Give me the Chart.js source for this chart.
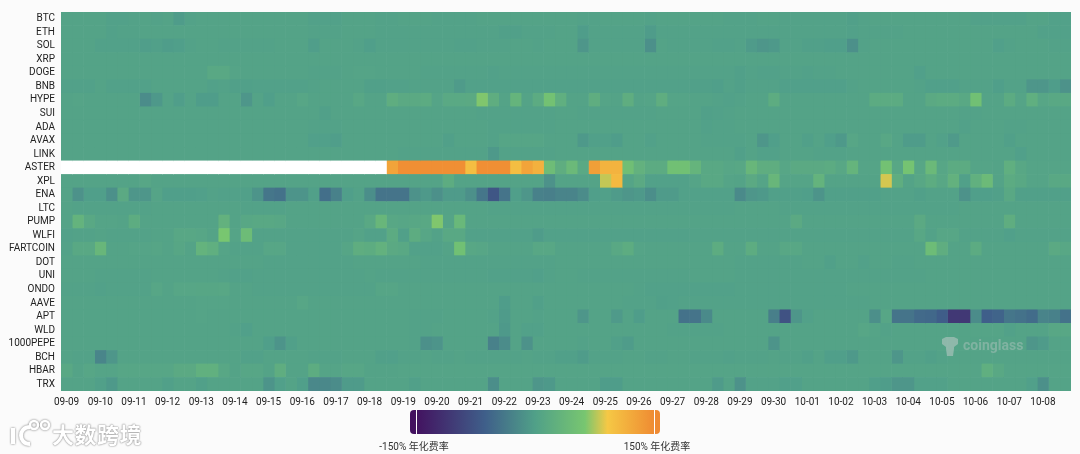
<!DOCTYPE html>
<html>
<head>
<meta charset="utf-8">
<title>Funding heatmap</title>
<script src="https://cdn.jsdelivr.net/npm/chart.js@4"></script>
<style>
  html, body { margin: 0; padding: 0; background: #fbfbfb; }
  body { width: 1080px; height: 454px; position: relative; overflow: hidden; font-family: Roboto, "Noto Sans CJK SC", sans-serif; }
  #wrap { position: absolute; left: 0; top: 0; width: 1080px; height: 454px; }
  #scaleBar { position: absolute; left: 410px; top: 410px; width: 250px; height: 24px; border-radius: 4px;
    background: linear-gradient(to right, #43115f 0%, #43115f 2%, #3f5f8a 30%, #50a088 50%, #78c670 70%, #f5c845 79%, #ef8a32 98%); }
  .handle { position: absolute; top: 0; width: 1px; height: 24px; background: #fff; }
  .scaleText { position: absolute; top: 438px; font-size: 10px; color: #333; white-space: nowrap; transform: translateX(-50%); }
  #coinglass { position: absolute; left: 963px; top: 337px; font-size: 14px; font-weight: 700; color: rgba(200,205,205,0.38); }
  #brand { position: absolute; left: 52px; top: 419px; font-size: 22px; font-weight: 700; color: #fff; letter-spacing: 0.5px;
    font-family: "Noto Sans CJK SC", sans-serif; line-height: 28px; text-shadow: 0 0 2px #8a8a8a, 0 0 1px #8a8a8a; }
  svg { position: absolute; }
</style>
</head>
<body>
<div id="wrap"><canvas id="heat" width="1080" height="454"></canvas></div>
<div id="scaleBar"><div class="handle" style="left:6px"></div><div class="handle" style="left:244px"></div></div>
<div class="scaleText" style="left:414px">-150% 年化费率</div>
<div class="scaleText" style="left:657px">150% 年化费率</div>
<svg style="left:940px;top:336px" width="20" height="22" viewBox="0 0 20 22">
  <path d="M2 3 L6 1 L14 1 L18 3 L18 8 L14 11 L14 13 L13 20 L7 20 L6 13 L6 11 L2 8 Z" fill="rgba(200,205,205,0.5)"/>
</svg>
<div id="coinglass">coinglass</div>
<svg style="left:8px;top:418px" width="44" height="30" viewBox="0 0 44 30">
  <g fill="none" stroke="#fff" stroke-width="4" style="filter:drop-shadow(0 0 1px #777)">
    <path d="M5 10 L5 26"/><path d="M22 9 C10 9 10 26 22 26"/>
    <circle cx="26" cy="7" r="4" stroke-width="2.5"/><circle cx="37" cy="7" r="4" stroke-width="2.5"/>
  </g>
</svg>
<div id="brand">大数跨境</div>
<script>
const coins = ['BTC', 'ETH', 'SOL', 'XRP', 'DOGE', 'BNB', 'HYPE', 'SUI', 'ADA', 'AVAX', 'LINK', 'ASTER', 'XPL', 'ENA', 'LTC', 'PUMP', 'WLFI', 'FARTCOIN', 'DOT', 'UNI', 'ONDO', 'AAVE', 'APT', 'WLD', '1000PEPE', 'BCH', 'HBAR', 'TRX'];
const days = ['09-09', '09-10', '09-11', '09-12', '09-13', '09-14', '09-15', '09-16', '09-17', '09-18', '09-19', '09-20', '09-21', '09-22', '09-23', '09-24', '09-25', '09-26', '09-27', '09-28', '09-29', '09-30', '10-01', '10-02', '10-03', '10-04', '10-05', '10-06', '10-07', '10-08'];

// annualised funding %, three readings per day
const BTC = [6,6,6,6,3,3,4,6,4,6, -3,4,6,6,6,6,6,6,6,6, 6,6,3,3,3,6,6,6,4,4, 6,6,6,5,5,5,5,6,6,6, 6,6,6,6,6,6,5,5,6,6, 6,6,5,6,6,6,6,6,6,5, 5,5,6,6,5,5,5,5,5,4, 2,5,6,6,6,6,6,6,6,6, 6,3,3,3,3,3,6,6,3,3];
const ETH = [6,6,6,6,3,4,4,6,6,6, 6,6,6,6,6,6,6,6,6,6, 6,6,4,4,4,6,6,6,5,5, 5,4,4,4,4,4,4,4,4,2, 2,4,5,5,6,6,-2,4,4,5, 5,5,-3,4,5,5,5,5,5,5, 5,5,5,5,5,5,4,4,5,5, 3,5,5,4,4,6,6,6,6,6, 6,6,6,6,6,6,6,3,3,3];
const SOL = [6,6,6,3,3,3,3,-1,2,-2, 0,4,6,6,5,5,4,4,5,6, 6,6,-1,6,6,6,5,0,5,5, 5,5,4,4,4,3,3,4,4,5, 6,6,5,6,6,6,-8,4,4,4, 5,4,-14,6,4,4,4,4,3,3, 4,-4,-8,-6,5,5,2,2,0,0, -14,4,6,6,6,6,6,6,6,6, 6,6,6,1,5,6,6,6,5,5];
const XRP = [6,6,6,6,6,6,6,6,6,6, 6,6,6,6,6,6,6,6,6,6, 6,6,6,6,6,6,6,6,6,6, 6,6,6,6,6,6,6,6,6,6, 6,6,6,6,6,6,6,6,6,6, 6,6,6,6,6,6,6,6,6,6, 6,6,6,6,6,6,6,6,6,6, 6,6,6,6,6,6,6,6,6,6, 6,6,6,6,6,6,6,6,6,6];
const DOGE = [6,6,6,6,6,6,6,6,6,6, 6,6,6,14,14,7,6,6,6,6, 6,6,5,5,5,6,7,7,6,6, 6,6,5,5,5,5,5,5,3,5, 5,5,5,5,5,5,5,5,5,5, 5,5,5,5,5,5,5,5,5,5, 2,5,3,3,5,5,3,5,5,6, 6,6,6,6,6,6,1,6,6,6, 6,6,6,6,6,6,6,6,6,6];
const BNB = [3,3,3,6,3,3,3,3,6,6, 6,6,6,3,5,2,2,3,3,3, 3,3,5,6,6,6,6,2,2,3, 3,4,4,4,4,-4,3,3,3,3, 3,3,3,3,3,3,3,3,3,3, 3,3,3,3,3,3,2,2,0,4, 2,5,4,4,1,1,1,1,1,1, 5,6,6,6,6,6,5,1,1,1, 5,5,5,0,5,5,-8,-8,-2,-12];
const HYPE = [6,8,6,6,6,6,6,-18,-7,6, -1,6,-2,-2,6,6,-8,6,0,6, 6,10,6,6,6,6,12,6,6,22, 16,16,18,7,15,15,16,62,22,6, 32,6,18,52,24,6,6,22,8,6, 22,6,8,22,7,7,6,6,4,3, 5,6,6,20,6,6,6,6,6,6, 6,6,18,18,18,6,6,16,18,18, 14,50,6,6,18,8,24,10,14,14];
const SUI = [6,6,6,6,6,6,6,6,6,6, 6,6,6,6,6,6,6,6,6,6, 6,6,6,2,6,6,6,6,6,6, 6,6,6,6,6,6,6,5,5,5, 5,5,5,5,6,6,5,4,4,5, 5,5,5,6,6,6,6,2,3,5, 6,6,6,6,6,6,6,6,6,6, 6,6,6,6,6,6,6,6,6,6, 5,5,6,6,6,6,6,6,6,6];
const ADA = [6,6,6,6,6,6,6,6,6,6, 6,6,6,6,6,6,6,6,6,6, 6,6,5,5,5,6,6,6,6,6, 6,6,6,6,6,6,6,6,5,5, 5,5,5,5,6,6,6,6,6,6, 6,6,6,6,6,6,6,3,4,5, 6,6,6,6,6,6,6,6,6,6, 6,6,6,6,6,6,6,6,6,6, 3,6,6,6,5,5,6,6,6,6];
const AVAX = [6,6,6,6,6,6,6,6,6,6, 6,6,6,6,6,6,6,6,6,6, 6,6,1,1,-1,6,6,6,6,6, 6,6,6,6,2,6,6,6,4,9, 9,9,9,6,6,6,-6,2,2,-2, 6,6,3,6,6,6,6,5,5,5, 5,6,-8,0,6,6,2,6,0,-6, 10,6,6,12,6,-3,-3,6,3,-5, 6,6,6,6,2,6,6,6,6,6];
const LINK = [6,6,6,6,6,6,6,6,6,6, 6,6,6,6,6,6,6,6,6,6, 6,6,6,6,6,6,6,6,6,6, 5,5,5,5,5,5,5,5,-6,5, 5,5,5,5,6,6,6,6,6,6, 6,6,6,6,6,6,6,6,6,6, 2,6,3,3,6,6,6,5,5,5, 6,6,6,6,6,6,6,6,6,6, 6,6,6,6,6,1,6,6,6,6];
const ASTER = [null,null,null,null,null,null,null,null,null,null, null,null,null,null,null,null,null,null,null,null, null,null,null,null,null,null,null,null,null,125, 145,145,145,145,145,145,100,145,145,145, 100,125,112,45,22,40,15,130,110,110, 48,28,18,18,50,50,32,14,14,10, 12,36,22,22,10,16,16,16,18,12, 32,8,8,52,12,55,10,40,10,18, 18,8,8,6,24,12,8,8,8,8];
const XPL = [6,6,6,6,6,6,6,10,6,6, 6,6,6,6,6,6,6,6,6,6, 6,6,6,6,6,6,6,6,6,6, 6,6,6,6,20,6,6,6,6,6, 6,6,6,-12,6,6,6,6,78,105, 8,16,3,3,3,3,8,14,14,8, 6,16,8,36,8,8,8,30,6,6, 6,6,6,82,22,6,12,20,12,28, 2,26,42,6,18,14,8,8,14,14];
const ENA = [6,-12,0,0,-14,16,-8,-8,8,0, 0,0,1,5,3,3,2,-10,-38,-42, -10,-10,2,-45,-28,0,4,-16,-40,-40, -40,-12,-6,-14,-4,-4,-14,-38,-70,-40, 0,-8,-28,-30,-25,-25,-18,0,2,-4, -8,-6,-16,-4,-4,3,3,3,3,3, -20,-8,-6,2,2,2,0,-10,2,2, 2,2,2,4,4,4,2,4,4,4, -12,0,0,2,14,2,2,2,2,2];
const LTC = [6,5,5,5,5,5,5,5,6,6, 6,6,6,6,6,6,5,5,5,5, 6,6,6,6,6,6,6,6,6,6, 6,6,6,6,6,6,6,6,5,5, 5,5,5,5,5,5,5,5,5,5, 5,5,5,5,5,5,5,5,5,5, 6,6,6,6,5,5,5,5,5,5, 5,5,5,5,5,5,5,5,5,5, 6,6,6,6,6,6,6,6,6,6];
const PUMP = [6,30,14,8,8,6,20,6,6,6, 6,6,6,6,28,6,12,14,14,12, 6,6,6,6,6,6,6,14,36,12, 10,12,14,62,8,38,6,6,6,6, 6,6,6,6,6,6,6,6,6,6, 6,6,6,6,6,6,6,6,6,6, 6,6,6,6,6,16,6,6,6,6, 6,6,6,6,6,6,16,6,6,6, 6,6,6,6,22,6,6,6,6,6];
const WLFI = [3,4,4,6,4,4,4,4,6,6, 12,12,10,6,60,8,44,4,4,4, 4,4,4,4,4,4,8,3,3,18, 2,20,10,4,14,14,3,3,3,3, 3,3,-3,3,3,3,3,3,3,3, 3,3,3,3,3,3,5,5,5,5, 5,5,5,5,5,5,5,4,4,4, 5,5,5,5,5,5,12,5,10,10, 5,5,5,5,1,5,5,4,4,4];
const FARTCOIN = [4,14,14,36,6,6,7,7,9,6, 11,6,30,24,8,5,5,5,10,10, 5,5,5,5,5,9,22,20,28,16, 14,3,3,3,6,50,12,10,6,6, 6,6,12,12,6,6,6,6,6,14, 20,8,6,6,6,6,6,6,20,6, 6,20,6,6,12,12,6,6,6,6, 6,6,6,6,6,6,6,44,22,6, 6,18,6,6,6,6,6,6,16,12];
const DOT = [6,6,6,6,6,6,6,6,6,6, 6,6,6,6,6,6,6,6,5,5, 5,5,5,5,5,5,6,6,6,6, 6,6,5,5,5,5,5,5,4,4, 4,4,4,5,6,6,6,6,6,6, 6,6,6,6,6,6,6,6,6,6, 5,5,5,5,5,5,6,6,2,6, 6,3,6,6,5,5,6,6,6,6, 6,6,6,6,6,6,6,6,6,6];
const UNI = [6,6,6,5,5,5,5,5,6,6, 6,6,6,6,5,3,3,5,5,5, 5,4,4,4,5,5,5,6,5,5, 5,5,5,5,5,5,5,5,3,3, 3,3,1,4,6,6,5,5,5,5, 5,5,5,5,5,5,6,6,6,6, 4,5,5,5,5,5,5,5,5,5, 5,5,5,5,5,5,5,6,6,6, 6,6,6,6,6,6,6,6,6,6];
const ONDO = [5,5,5,3,5,5,5,5,10,6, 10,10,11,11,12,6,6,5,5,5, 5,5,5,4,4,4,5,5,9,9, 6,6,6,6,6,6,6,6,6,6, 6,6,6,6,6,6,6,6,6,6, 6,5,3,3,3,3,3,3,3,3, 5,5,5,5,5,5,5,5,5,5, 6,6,6,6,6,6,6,6,6,6, 6,6,6,6,6,6,6,6,6,6];
const AAVE = [6,6,6,6,6,6,6,6,6,6, 6,6,7,7,8,6,6,6,6,6, 6,10,6,6,6,6,6,6,6,6, 6,6,6,6,6,6,6,6,6,-2, 6,6,2,6,6,6,6,6,6,6, 5,5,5,2,3,5,5,5,5,5, 5,5,5,5,5,5,5,5,4,5, 5,5,6,6,6,6,6,6,6,6, 6,6,6,6,6,6,6,6,6,6];
const APT = [6,6,6,6,6,6,6,6,6,6, 6,6,8,6,6,6,6,6,6,6, 6,6,6,6,6,6,6,6,6,6, 6,5,5,4,6,6,6,6,5,-4, 6,6,4,6,6,6,-8,6,6,-5, 6,-2,6,6,6,-42,-40,-20,6,6, 6,6,6,-30,-75,-8,3,6,6,6, 6,6,-15,10,-40,-40,-50,-52,-62,-105, -105,-18,-60,-55,-38,-42,-48,-25,-28,-42];
const WLD = [6,6,6,6,6,6,6,6,6,6, 6,6,6,6,6,5,1,6,6,6, 6,6,6,6,6,6,6,6,6,6, 6,4,4,6,6,6,6,6,6,-6, 6,3,3,6,6,6,6,6,6,6, 6,6,6,6,5,5,5,5,5,6, 6,6,6,6,6,6,6,6,6,6, 6,10,8,4,6,6,6,6,6,6, 6,8,8,8,3,6,6,6,12,12];
const PEPE1000 = [6,6,6,6,6,6,6,6,6,6, 6,6,6,6,6,6,6,6,0,-10, 2,6,6,6,6,6,6,6,6,6, 6,5,-14,-10,6,6,6,6,-28,-18, 6,-12,6,6,6,6,4,6,6,2, -3,6,6,6,6,6,6,6,6,6, 6,6,6,-10,6,6,6,6,6,6, 6,6,6,6,6,6,6,6,6,6, 6,6,6,6,6,6,-8,-4,6,6];
const BCH = [6,5,5,-24,-8,6,6,6,6,6, 6,6,6,6,6,6,3,3,6,6, 6,6,5,5,5,6,6,6,2,1, 4,4,6,4,4,6,5,5,4,4, 5,6,5,5,2,2,-3,5,5,5, 6,6,5,5,6,6,4,4,4,3, 5,5,5,6,5,5,2,6,0,0, -6,6,6,6,-8,5,5,2,5,6, 6,6,6,6,6,6,6,6,6,6];
const HBAR = [14,6,10,8,8,10,10,10,10,10, 16,16,26,26,12,6,10,10,6,22, 6,6,20,8,8,10,10,6,6,6, 8,8,8,8,8,8,8,8,8,8, 8,8,8,8,8,8,8,8,8,8, 8,8,8,8,8,8,8,8,8,8, 8,8,8,8,8,8,8,8,8,8, 8,8,8,8,8,8,8,8,8,8, 8,8,24,14,8,8,8,8,8,8];
const TRX = [6,6,6,2,-6,6,6,6,6,2, 6,6,2,6,6,6,6,6,-10,1, 6,0,-22,-22,-18,-4,-4,6,6,6, 6,2,6,6,6,6,6,6,-16,6, 6,6,-8,-6,6,6,6,6,-2,-2, 6,6,6,6,6,6,6,6,-4,6, -12,5,5,5,1,1,6,6,6,6, 6,6,0,-2,-8,-8,3,3,3,6, 6,6,6,6,6,6,1,-14,6,6];

const rows = [BTC, ETH, SOL, XRP, DOGE, BNB, HYPE, SUI, ADA, AVAX, LINK, ASTER, XPL, ENA, LTC, PUMP, WLFI, FARTCOIN, DOT, UNI, ONDO, AAVE, APT, WLD, PEPE1000, BCH, HBAR, TRX];

const colorStops = [
  [-150, [67, 17, 95]],
  [-60, [63, 95, 138]],
  [0, [80, 159, 138]],
  [60, [120, 198, 112]],
  [90, [245, 200, 69]],
  [150, [239, 138, 50]],
];

function valueColor(v) {
  if (v === null) return '#ffffff';
  for (let i = 1; i < colorStops.length; i++) {
    const [v1, c1] = colorStops[i];
    if (v <= v1) {
      const [v0, c0] = colorStops[i - 1];
      const t = (v - v0) / (v1 - v0);
      const mix = c0.map((c, k) => Math.round(c + (c1[k] - c) * t));
      return `rgb(${mix.join(',')})`;
    }
  }
  return '#ef8a32';
}

// one stacked dataset per time slot, each cell is one unit wide
const slots = BTC.length;
const datasets = [];
for (let c = 0; c < slots; c++) {
  datasets.push({
    label: `${days[Math.floor(c / 3)]} #${c % 3 + 1}`,
    data: rows.map(() => 1),
    backgroundColor: rows.map(r => valueColor(r[c])),
    borderWidth: 0,
    barPercentage: 1,
    categoryPercentage: 1,
  });
}

new Chart(document.getElementById('heat'), {
  type: 'bar',
  data: { labels: coins, datasets },
  options: {
    indexAxis: 'y',
    responsive: false,
    animation: false,
    layout: { padding: { top: 12, right: 9, bottom: 0, left: 0 } },
    plugins: { legend: { display: false }, tooltip: { enabled: false } },
    scales: {
      x: {
        type: 'linear',
        stacked: true,
        min: 0,
        max: slots,
        grid: { display: false, drawTicks: false },
        border: { display: false },
        afterBuildTicks: axis => { axis.ticks = days.map((d, i) => ({ value: i * 3 + 0.5 })); },
        afterFit: axis => { axis.height = 63; },
        ticks: {
          autoSkip: false,
          maxRotation: 0,
          padding: 5,
          color: '#222',
          font: { family: 'Roboto', size: 10 },
          callback: v => days[Math.round((v - 0.5) / 3)],
        },
      },
      y: {
        stacked: true,
        grid: { display: false, drawTicks: false },
        border: { display: false },
        afterFit: axis => { axis.width = 61; },
        ticks: {
          autoSkip: false,
          padding: 6,
          color: '#222',
          font: { family: 'Roboto', size: 10 },
        },
      },
    },
  },
});
</script>
</body>
</html>
